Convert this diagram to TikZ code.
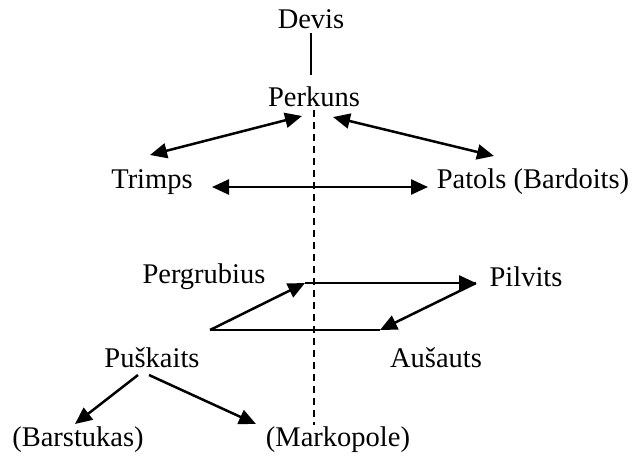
\documentclass[tikz,border=0pt]{standalone}
\usepackage{fontspec}
\setmainfont{Liberation Serif}
\usetikzlibrary{arrows.meta}
\begin{document}
\begin{tikzpicture}[x=1pt,y=-1pt,
  lbl/.style={inner sep=0pt,font=\fontsize{28.5}{30}\selectfont},
  conn/.style={line width=2.5pt},
  arr/.style={conn,-{Triangle[length=17pt,width=15pt]}},
  darr/.style={conn,{Triangle[length=17pt,width=15pt]}-{Triangle[length=17pt,width=15pt]}}]
\useasboundingbox (0,0) rectangle (634,460);
% labels
\node[lbl] (devis) at (311,19) {Devis};
\node[lbl] (perkuns) at (314,97) {Perkuns};
\node[lbl] (trimps) at (152,182) {Trimps};
\node[lbl] (patols) at (533,182) {Patols (Bardoits)};
\node[lbl] (pergrubius) at (204,277) {Pergrubius};
\node[lbl] (pilvits) at (526,277) {Pilvits};
\node[lbl] (puskaits) at (152,358) {Puškaits};
\node[lbl] (ausauts) at (436,358) {Aušauts};
\node[lbl] (barstukas) at (78,440) {(Barstukas)};
\node[lbl] (markopole) at (338,440) {(Markopole)};
% coordinates
\coordinate (dtop) at (311,33);
\coordinate (dbot) at (311,75);
\coordinate (axis1) at (314,110);
\coordinate (axis2) at (314,425);
\coordinate (tpA) at (150,155);
\coordinate (tpB) at (302,116);
\coordinate (ppA) at (333,117);
\coordinate (ppB) at (494,156);
\coordinate (hA) at (212,187);
\coordinate (hB) at (428,187);
\coordinate (pBL) at (210,330);
\coordinate (pTL) at (305,283);
\coordinate (pTR) at (476,283);
\coordinate (pBR) at (380,330);
\coordinate (pkA) at (138,375);
\coordinate (pkB) at (75,424);
\coordinate (pkC) at (149,375);
\coordinate (pkD) at (256,424);
% connectors
\draw[line width=1.6pt] (dtop) -- (dbot);
\draw[line width=1.6pt,dash pattern=on 7pt off 5pt] (axis1) -- (axis2);
\draw[darr] (tpA) -- (tpB);
\draw[darr] (ppA) -- (ppB);
\draw[darr] (hA) -- (hB);
\draw[arr] (pBL) -- (pTL);
\draw[arr] (pTL) -- (pTR);
\draw[arr] (pTR) -- (pBR);
\draw[conn] (pBR) -- (pBL);
\draw[arr] (pkA) -- (pkB);
\draw[arr] (pkC) -- (pkD);
\end{tikzpicture}
\end{document}
